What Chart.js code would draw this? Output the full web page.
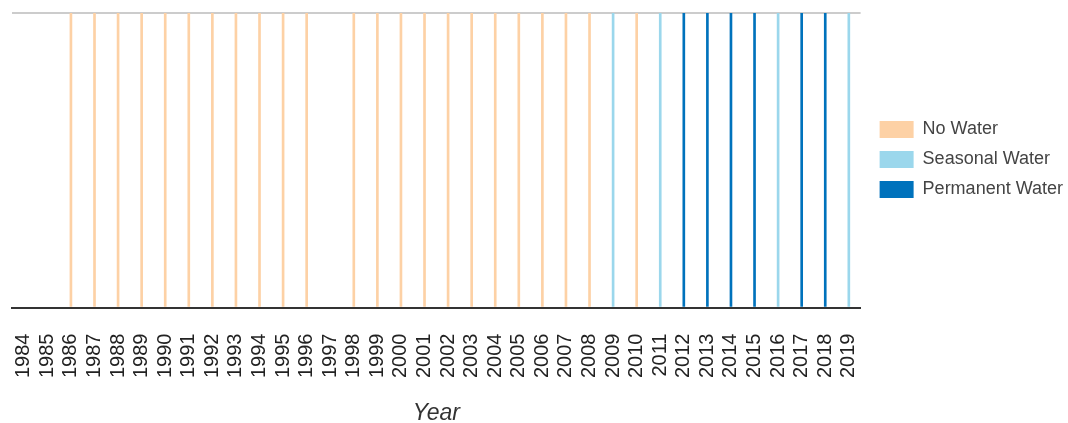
<!DOCTYPE html>
<html>
<head>
<meta charset="utf-8">
<script src="https://cdn.jsdelivr.net/npm/chart.js@4.4.0/dist/chart.umd.min.js"></script>
<style>
    html, body { margin: 0; padding: 0; background: #fff; }
    #wrap { width: 1068px; height: 423px; }
</style>
</head>
<body>
<div id="wrap"><canvas id="waterChart" width="1068" height="423"></canvas></div>
<script>
// 연도 (x축)
const years = ['1984', '1985', '1986', '1987', '1988', '1989', '1990', '1991', '1992', '1993',
    '1994', '1995', '1996', '1997', '1998', '1999', '2000', '2001', '2002', '2003',
    '2004', '2005', '2006', '2007', '2008', '2009', '2010', '2011', '2012', '2013',
    '2014', '2015', '2016', '2017', '2018', '2019'];

// 분류별 값 (해당 연도에 1)
const noWater = [0, 0, 1, 1, 1, 1, 1, 1, 1, 1, 1, 1, 1, 0, 1, 1, 1, 1, 1, 1, 1, 1, 1, 1, 1, 0, 1, 0, 0, 0, 0, 0, 0, 0, 0, 0];
const seasonalWater = [0, 0, 0, 0, 0, 0, 0, 0, 0, 0, 0, 0, 0, 0, 0, 0, 0, 0, 0, 0, 0, 0, 0, 0, 0, 1, 0, 1, 0, 0, 0, 0, 1, 0, 0, 1];
const permanentWater = [0, 0, 0, 0, 0, 0, 0, 0, 0, 0, 0, 0, 0, 0, 0, 0, 0, 0, 0, 0, 0, 0, 0, 0, 0, 0, 0, 0, 1, 1, 1, 1, 0, 1, 1, 0];

const seriesNames = ['No Water', 'Seasonal Water', 'Permanent Water'];
const seriesColors = ['#fdd1a5', '#9bd7ec', '#0072bc'];

Chart.defaults.font.family = '"Liberation Sans", Arial, sans-serif';

// 0인 해는 막대를 그리지 않음
function makeDataset(i, values) {
    return {
        label: seriesNames[i],
        data: values.map(v => v || null),
        backgroundColor: seriesColors[i],
        borderWidth: 0,
        barThickness: 2
    };
}

const ctx = document.getElementById('waterChart').getContext('2d');
new Chart(ctx, {
    type: 'bar',
    data: {
        labels: years,
        datasets: [
            makeDataset(0, noWater),
            makeDataset(1, seasonalWater),
            makeDataset(2, permanentWater)
        ]
    },
    options: {
        responsive: false,
        animation: false,
        layout: {
            padding: { left: 12, top: 13, right: -5, bottom: -2 }
        },
        plugins: {
            tooltip: { enabled: false },
            legend: {
                position: 'right',
                align: 'start',
                maxWidth: 240,
                title: {
                    display: true,
                    text: '',
                    padding: { top: 81, bottom: 0 }
                },
                labels: {
                    boxWidth: 34,
                    boxHeight: 17,
                    padding: 12,
                    color: '#444',
                    font: { size: 18 }
                }
            }
        },
        scales: {
            x: {
                stacked: true,
                grid: { display: false },
                border: { display: true, color: '#333', width: 2 },
                ticks: {
                    minRotation: 90,
                    maxRotation: 90,
                    autoSkip: false,
                    padding: 18,
                    color: '#222',
                    font: { size: 20 }
                },
                title: {
                    display: true,
                    text: 'Year',
                    color: '#333',
                    font: { size: 23, style: 'italic', lineHeight: 1 },
                    padding: { top: 6, bottom: 0 }
                }
            },
            y: {
                stacked: true,
                min: 0,
                max: 1,
                ticks: { display: false, stepSize: 1 },
                border: { display: false },
                grid: {
                    drawTicks: false,
                    lineWidth: 2,
                    color: c => c.tick.value === 1 ? '#cccccc' : 'rgba(0,0,0,0)'
                }
            },
            // 범례와 그림 영역 사이 간격
            gap: {
                type: 'linear',
                position: 'right',
                display: true,
                ticks: { display: false },
                grid: { display: false },
                border: { display: false },
                afterFit: s => { s.width = 7; }
            }
        }
    }
});
</script>
</body>
</html>
